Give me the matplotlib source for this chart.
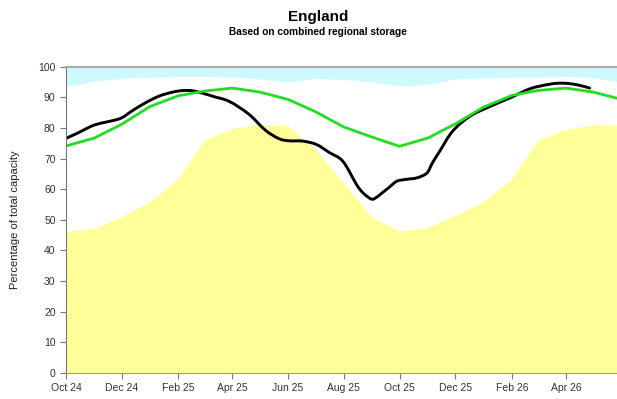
import numpy as np
import pandas as pd
import matplotlib
matplotlib.use("Agg")
import matplotlib.pyplot as plt
import matplotlib.dates as mdates
from matplotlib.path import Path
from matplotlib.patches import PathPatch

plt.rcParams['font.family'] = ['Liberation Sans', 'DejaVu Sans']

# monthly envelope (1st of each month)
months = pd.date_range("2024-10-01", "2026-06-01", freq="MS")
min_storage = [46.3, 47.3, 51.0, 56.0, 63.5, 76.0, 79.8, 81.2, 80.7, 73.0, 62.0, 50.8,
               46.4, 47.5, 51.5, 56.0, 63.5, 76.0, 79.6, 81.0, 80.7]
max_storage = [93.6, 95.3, 96.2, 96.5, 96.8, 96.8, 96.6, 96.0, 95.0, 96.2, 95.8, 95.0,
               93.7, 94.2, 96.0, 96.3, 96.5, 96.6, 96.8, 96.5, 94.9]
avg_storage = [74.1, 76.7, 81.2, 87.0, 90.5, 92.0, 93.0, 91.7, 89.3, 85.3, 80.3, 77.0,
               74.0, 76.7, 81.3, 86.8, 90.6, 92.2, 93.0, 91.7, 89.3]

# actual / projected combined storage
actual_dates = pd.to_datetime([
    "2024-10-01", "2024-10-15", "2024-10-29", "2024-11-09", "2024-11-20", "2024-12-01",
    "2024-12-12", "2024-12-27", "2025-01-11", "2025-01-26", "2025-02-06", "2025-02-17",
    "2025-03-01", "2025-03-12", "2025-03-29", "2025-04-19", "2025-05-07", "2025-05-22",
    "2025-06-02", "2025-06-17", "2025-07-02", "2025-07-16", "2025-07-31", "2025-08-15",
    "2025-08-22", "2025-08-31", "2025-09-05", "2025-09-12", "2025-09-20", "2025-09-28",
    "2025-10-08", "2025-10-20", "2025-10-31", "2025-11-06", "2025-11-14", "2025-11-28",
    "2025-12-17", "2026-01-08", "2026-01-30", "2026-02-21", "2026-03-15", "2026-03-29",
    "2026-04-13", "2026-04-27"])
actual = [76.6, 78.5, 80.6, 81.6, 82.3, 83.3,
          85.5, 88.2, 90.4, 91.7, 92.2, 92.1,
          91.2, 90.2, 88.6, 84.5, 79.3, 76.5,
          75.8, 75.7, 74.6, 72.0, 69.1, 61.5,
          58.8, 56.8, 57.2, 58.8, 60.7, 62.6,
          63.2, 63.7, 65.3, 68.6, 72.4, 78.9,
          83.8, 87.0, 89.8, 92.8, 94.3, 94.6,
          94.1, 93.0]

tick_dates = pd.date_range("2024-10-01", "2026-04-01", freq="2MS")


def smooth_path(x, y):
    # Catmull-Rom through the points, written as cubic Bezier segments
    p = np.column_stack([x, y])
    ext = np.vstack([p[0], p, p[-1]])
    verts = [p[0]]
    codes = [Path.MOVETO]
    for i in range(1, len(ext) - 2):
        p0, p1, p2, p3 = ext[i - 1], ext[i], ext[i + 1], ext[i + 2]
        verts += [p1 + (p2 - p0) / 6, p2 - (p3 - p1) / 6, p2]
        codes += [Path.CURVE4] * 3
    return Path(verts, codes)


fig = plt.figure(figsize=(6.17, 3.99), dpi=100)
ax = fig.add_axes([0.107, 0.065, 0.893, 0.768])

ax.fill_between(months, max_storage, 100, color="#CCFAFF", lw=0)
ax.fill_between(months, 0, min_storage, color="#FFFF99", lw=0)
ax.plot(months, avg_storage, color="#22DD22", lw=2.0)

xnum = mdates.date2num(actual_dates)
ax.add_patch(PathPatch(smooth_path(xnum, actual), facecolor="none",
                       edgecolor="black", lw=2.1, capstyle="round", joinstyle="round"))

ax.set_xlim(pd.Timestamp("2024-10-01"), pd.Timestamp("2026-05-27"))
ax.set_ylim(0, 100)
ax.set_yticks(range(0, 101, 10))
ax.set_xticks(tick_dates)
ax.xaxis.set_major_formatter(mdates.DateFormatter("%b %y"))
ax.tick_params(labelsize=7.5, labelcolor="#333333", length=4, width=0.8, color="#777777")

ax.spines["right"].set_visible(False)
ax.spines["top"].set_color("#AAAAAA")
ax.spines["top"].set_linewidth(1.5)
ax.spines["left"].set_color("#777777")
ax.spines["bottom"].set_color("#999999")

ax.set_ylabel("Percentage of total capacity", fontsize=8, color="#222222", labelpad=13)

fig.text(0.515, 0.958, "England", ha="center", va="center", fontsize=11, fontweight="bold")
fig.text(0.515, 0.921, "Based on combined regional storage", ha="center", va="center",
         fontsize=7.3, fontweight="bold")

fig.savefig("out.png", dpi=100)
